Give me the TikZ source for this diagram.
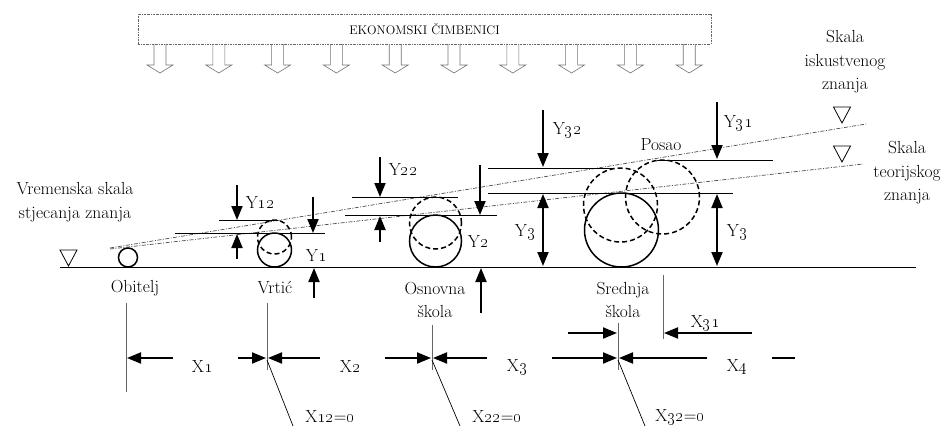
\documentclass[tikz,border=0pt]{standalone}
\usepackage{amsmath}
\usetikzlibrary{arrows.meta}

\begin{document}
\begin{tikzpicture}[
  x=1pt,y=-1pt,
  txt/.style={font=\fontsize{17.5}{23.5}\selectfont,inner sep=0pt,align=center},
  headbox/.style={draw=black!60,line width=0.6pt,dash pattern=on 2pt off 1pt on 0.6pt off 1pt,minimum width=573pt,minimum height=30pt,inner sep=0pt,font=\fontsize{12.5}{14}\selectfont},
  hollow/.style={line width=0.6pt,black!55},
  dim/.style={-{Triangle[length=14pt,width=11pt]},line width=2pt},
  dimboth/.style={{Triangle[length=14pt,width=11pt]}-{Triangle[length=14pt,width=11pt]},line width=2pt},
  level/.style={line width=0.9pt},
  guide/.style={line width=0.8pt,black!60},
  lean/.style={line width=0.7pt},
  ball/.style={line width=1.5pt},
  ghost/.style={line width=1.5pt,dash pattern=on 5pt off 3pt},
  scaleline/.style={line width=0.7pt,black!70,dash pattern=on 4pt off 1.5pt on 1pt off 1.5pt},
  tri/.style={line width=0.8pt},
]
\useasboundingbox (0,0) rectangle (946,426);

% === TOP: economic factors ===
\node[headbox] (econ) at (424.5,29) {EKONOMSKI ČIMBENICI};
\foreach \i in {0,...,9}{
  \pgfmathsetmacro{\ax}{160+58.8*\i}
  \draw[hollow] (\ax-6,44) -- (\ax-6,65) -- (\ax-13,65) -- (\ax,73) -- (\ax+13,65) -- (\ax+6,65) -- (\ax+6,44);
}

% === Time axis and scales ===
\draw[level] (60,267) -- (916,267);
\draw[scaleline] (110,248) -- (866,124);
\draw[scaleline] (110,249) -- (863,164);
\foreach \tx/\ty in {68.5/266,842/123,842/162}
  \draw[tri] (\tx-8.5,\ty-16) -- (\tx+8.5,\ty-16) -- (\tx,\ty) -- cycle;

\node[txt] (vrem) at (75,202) {Vremenska skala\\stjecanja znanja};
\node[txt] (isk) at (845,62) {Skala\\iskustvenog\\znanja};
\node[txt] (teor) at (907,173) {Skala\\teorijskog\\znanja};

% === Obitelj ===
\draw[ball] (128,257.5) circle[radius=9.5pt];
\node[txt] (obitelj) at (135,288) {Obitelj};

% === Vrtic ===
\draw[ball] (274.5,250) circle[radius=17pt];
\draw[ghost] (274.5,237) circle[radius=17pt];
\draw[level] (219,220) -- (278,220);
\draw[level] (175,233) -- (325,233);
\draw[dim] (237,185) -- (237,220);
\draw[dim] (237,259) -- (237,234);
\draw[dim] (313,197) -- (313,233);
\draw[dim] (314,298) -- (314,268);
\node[txt] (y12) at (260,203) {Y\oldstylenums{12}};
\node[txt] (y1) at (316,256) {Y\oldstylenums{1}};
\node[txt] (vrtic) at (275,288) {Vrtić};

% === Osnovna skola ===
\draw[ball] (435.5,241) circle[radius=26pt];
\draw[ghost] (435.5,223) circle[radius=26pt];
\draw[level] (352,197) -- (458,197);
\draw[level] (345,215) -- (497,215);
\draw[dim] (380,157) -- (380,197);
\draw[dim] (380,242) -- (380,216);
\draw[dim] (480,165) -- (480,215);
\draw[dim] (481,313) -- (481,268);
\node[txt] (y22) at (403,170) {Y\oldstylenums{22}};
\node[txt] (y2) at (478,242) {Y\oldstylenums{2}};
\node[txt] (osnovna) at (435,300) {Osnovna\\škola};

% === Srednja skola and Posao ===
\draw[ball] (621.5,230) circle[radius=37pt];
\draw[ghost] (620.5,205) circle[radius=37pt];
\draw[ghost] (662.5,197) circle[radius=37pt];
\draw[level] (488,168) -- (612,168);
\draw[level] (488,193) -- (733,193);
\draw[level] (657,160) -- (773,160);
\draw[dim] (543,110) -- (543,167);
\draw[dimboth] (543,194) -- (543,266);
\draw[dim] (717,102) -- (717,159);
\draw[dimboth] (717,194) -- (717,266);
\node[txt] (y32) at (567,130) {Y\oldstylenums{32}};
\node[txt] (y3a) at (525,232) {Y\oldstylenums{3}};
\node[txt] (y31) at (738,123) {Y\oldstylenums{31}};
\node[txt] (y3b) at (737,232) {Y\oldstylenums{3}};
\node[txt] (posao) at (661,145) {Posao};
\node[txt] (srednja) at (623,300) {Srednja\\škola};

% === Bottom: time intervals ===
\draw[guide] (126,303) -- (126,392);
\draw[guide] (267,303) -- (267,370);
\draw[guide] (432,325) -- (432,370);
\draw[guide] (618,323) -- (618,370);
\draw[guide] (663,275) -- (663,339);
\draw[lean] (267,360) -- (293,426);
\draw[lean] (432,360) -- (460,426);
\draw[lean] (618,360) -- (645,426);

\draw[dim] (173,358) -- (127,358);
\draw[dim] (238,358) -- (266,358);
\draw[dim] (320,358) -- (268,358);
\draw[dim] (385,358) -- (431,358);
\draw[dim] (487,358) -- (433,358);
\draw[dim] (552,358) -- (617,358);
\draw[dim] (707,358) -- (619,358);
\draw[line width=2pt] (772,358) -- (795,358);
\draw[dim] (568,333) -- (617,333);
\draw[dim] (752,333) -- (664,333);

\node[txt] (x1) at (202,367) {X\oldstylenums{1}};
\node[txt] (x2) at (350,367) {X\oldstylenums{2}};
\node[txt] (x3) at (517,367) {X\oldstylenums{3}};
\node[txt] (x4) at (737,367) {X\oldstylenums{4}};
\node[txt] (x31) at (705,323) {X\oldstylenums{31}};
\node[txt] (x12) at (330,417) {X\oldstylenums{12}=\oldstylenums{0}};
\node[txt] (x22) at (497,417) {X\oldstylenums{22}=\oldstylenums{0}};
\node[txt] (x32) at (680,417) {X\oldstylenums{32}=\oldstylenums{0}};

\end{tikzpicture}
\end{document}
